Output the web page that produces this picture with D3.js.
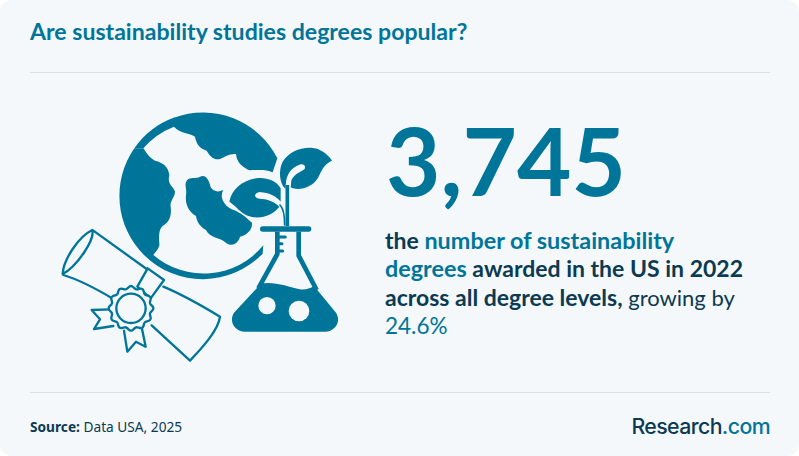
<!DOCTYPE html>
<html>
<head>
<meta charset="utf-8">
<script src="https://cdn.jsdelivr.net/npm/d3@7"></script>
<style>
  html, body { margin: 0; padding: 0; background: #fff; }
  svg { display: block; }
</style>
</head>
<body>
<div id="chart"></div>
<script>
const titleText = "Are sustainability studies degrees popular?";
const headline = "3,745";
// each line of the statement: [text, colour key, weight, size]
const statementLines = [
  [["the ", "dark", 700, 23], ["number of sustainability", "teal", 700, 23.4]],
  [["degrees", "teal", 700, 23.4], [" awarded in the US in 2022", "dark", 700, 23]],
  [["across all degree levels,", "dark", 700, 23], [" growing by", "dark", 400, 22]],
  [["24.6%", "teal", 400, 22.5]]
];
const sourceLabel = "Source:";
const sourceText = " Data USA, 2025";
const logoParts = ["Research", ".com"];

const colors = { teal: "#00759a", dark: "#0b3a52", bg: "#f4f8fa", rule: "#dcdfe3" };
const width = 799, height = 456;
const bodyFont = "Lato, sans-serif";

const svg = d3.select("#chart").append("svg")
  .attr("width", width)
  .attr("height", height);

svg.append("rect")
  .attr("width", width).attr("height", height)
  .attr("rx", 12)
  .attr("fill", colors.bg);

// title and rules
svg.append("text")
  .attr("x", 30).attr("y", 40)
  .attr("font-family", bodyFont).attr("font-size", 23.1).attr("font-weight", 700)
  .attr("fill", colors.teal)
  .text(titleText);

svg.selectAll(".rule").data([72.5, 392.5]).enter().append("line")
  .attr("class", "rule")
  .attr("x1", 30).attr("x2", 770)
  .attr("y1", d => d).attr("y2", d => d)
  .attr("stroke", colors.rule);

// big number
svg.append("text")
  .attr("x", 386).attr("y", 196)
  .attr("font-family", bodyFont).attr("font-size", 94).attr("font-weight", 700)
  .attr("fill", colors.teal)
  .text(headline);

// statement
const lineY = d3.scaleLinear().domain([0, 3]).range([249, 334]);
const lines = svg.selectAll(".statement").data(statementLines).enter().append("text")
  .attr("class", "statement")
  .attr("x", 385)
  .attr("y", (d, i) => lineY(i))
  .attr("font-family", bodyFont);
lines.selectAll("tspan").data(d => d).enter().append("tspan")
  .attr("fill", d => colors[d[1]])
  .attr("font-weight", d => d[2])
  .attr("font-size", d => d[3])
  .text(d => d[0]);

// footer
const source = svg.append("text")
  .attr("x", 30).attr("y", 432)
  .attr("font-family", "'Noto Sans', sans-serif").attr("font-size", 13.7)
  .attr("fill", colors.dark);
source.append("tspan").attr("font-weight", 700).text(sourceLabel);
source.append("tspan").text(sourceText);

const logo = svg.append("text")
  .attr("x", 770).attr("y", 434)
  .attr("text-anchor", "end")
  .attr("font-family", "Inter, sans-serif").attr("font-size", 21.3).attr("font-weight", 500)
  .attr("letter-spacing", -0.6);
logo.append("tspan").attr("fill", colors.dark).text(logoParts[0]);
logo.append("tspan").attr("fill", colors.teal).text(logoParts[1]);

// icon, drawn in a 3x grid and scaled down
const icon = svg.append("g").attr("transform", "translate(50,90) scale(0.33333)");

function fillPath(d, fill) {
  return icon.append("path").attr("d", d).attr("fill", fill || colors.teal);
}
function strokePath(d, w) {
  return icon.append("path").attr("d", d).attr("fill", "none")
    .attr("stroke", colors.teal).attr("stroke-width", w || 7)
    .attr("stroke-linejoin", "round").attr("stroke-linecap", "round");
}

// globe: left continent
fillPath("M253,175 A250,250 0 0 0 282,495 L310,495 C322,480 330,470 328,460 C325,430 330,415 338,408 C360,395 365,375 362,350 C358,335 375,320 375,305 C372,290 350,285 358,255 C355,230 340,218 315,212 C300,205 290,190 280,175 Z");
// ring between left and top continents
fillPath("M253,175 A250,250 0 0 1 375,82 L372,110 A228,228 0 0 0 280,175 Z");
// top continent
fillPath("M372,83 A250,250 0 0 1 682,205 L668,247 C650,238 625,240 598,241 C580,232 560,220 558,192 C540,190 525,200 510,207 C490,212 478,195 470,182 C450,175 440,165 435,140 C420,128 390,132 372,110 Z");
// middle continent
fillPath("M410,272 C420,258 440,268 450,260 C470,252 478,275 482,292 C490,305 505,308 520,300 C508,320 520,345 545,358 C575,368 590,385 606,398 C608,420 590,435 570,440 C565,460 545,472 528,458 C510,442 480,445 468,420 C450,410 440,395 438,378 C415,365 405,340 408,315 C412,300 402,285 410,272 Z");
// bottom crescent
fillPath("M282,495 A250,250 0 0 0 638,491 L640,466 A232,232 0 0 1 310,495 Z");

// plant
fillPath("M706,296 C688,280 685,240 698,215 C720,180 770,165 805,178 C825,187 838,200 846,212 C825,220 815,240 805,262 C790,292 745,305 722,292 L724,272 C728,258 745,248 760,240 C772,232 762,218 748,224 C725,232 710,252 708,278 Z");
fillPath("M538,335 C545,300 575,270 625,264 C650,262 680,272 692,295 L692,335 C680,320 660,308 628,306 C610,310 612,325 628,326 C650,326 675,335 688,350 C670,375 630,390 595,378 C570,368 555,345 538,335 Z");
strokePath("M712,285 L712,408", 11).attr("stroke-linecap", "butt");
strokePath("M690,345 C700,355 704,370 704,405", 5);

// flask
strokePath("M638,417 L776,417", 16);
strokePath("M682,425 L682,492 L625,595", 14).attr("stroke-linecap", "butt");
strokePath("M746,425 L746,497 L800,600", 14).attr("stroke-linecap", "butt");
strokePath("M684,441 L706,441", 9);
strokePath("M684,461 L696,461", 9);
strokePath("M684,483 L698,483", 9);
fillPath("M632,582 C665,572 715,590 750,598 C765,600 780,596 792,588 L858,668 C875,695 855,725 825,725 L585,725 C555,725 535,695 552,668 Z");
icon.selectAll(".bubble").data([[651, 647, 26], [747, 663, 31]]).enter().append("circle")
  .attr("class", "bubble")
  .attr("cx", d => d[0]).attr("cy", d => d[1]).attr("r", d => d[2])
  .attr("fill", colors.bg);

// diploma
strokePath("M127,420 C85,440 40,510 38,552 C80,530 135,450 127,420 Z");
strokePath("M130,422 L290,537");
strokePath("M40,555 C90,570 145,600 190,627");
strokePath("M293,535 L342,570 L302,625 L262,590 Z");
strokePath("M340,590 C400,615 460,650 510,680 C505,720 460,770 420,812 L305,706");
strokePath("M182,658 L125,660 L150,688 L132,717 L190,708");
strokePath("M222,722 L232,785 L258,755 L287,770 L275,712");

// rosette
const rosette = d3.range(0, 96).map(i => {
  const a = i / 96 * 2 * Math.PI;
  return [a, 63 + 4 * Math.cos(a * 12)];
});
icon.append("path")
  .attr("transform", "translate(243,655)")
  .attr("d", d3.lineRadial().curve(d3.curveCardinalClosed)(rosette))
  .attr("fill", colors.bg).attr("stroke", colors.teal).attr("stroke-width", 7);
icon.append("circle")
  .attr("cx", 243).attr("cy", 655).attr("r", 44)
  .attr("fill", colors.bg).attr("stroke", colors.teal).attr("stroke-width", 7);
</script>
</body>
</html>
